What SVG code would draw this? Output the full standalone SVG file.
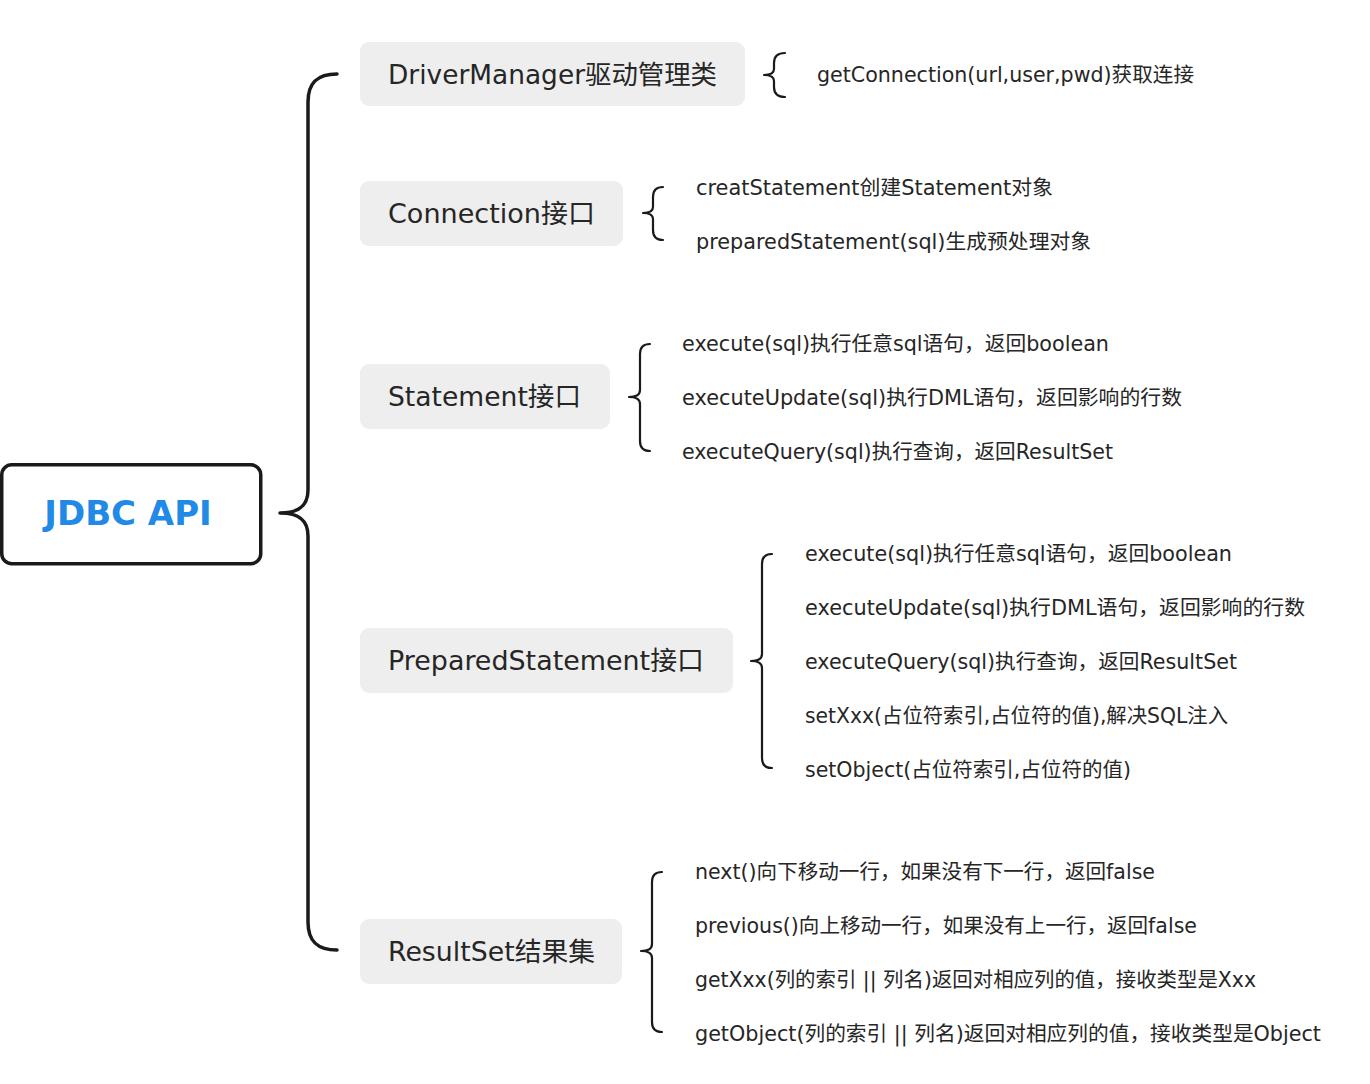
<svg xmlns="http://www.w3.org/2000/svg" width="1370" height="1084" viewBox="0 0 1370 1084">
<style>
.bg{fill:#ffffff}
.root{fill:#ffffff;stroke:#1a1a1a;stroke-width:3.5}
.rootText{font-family:"DejaVu Sans","Noto Sans CJK SC",sans-serif;font-size:34px;font-weight:bold;fill:#2189e6}
.box{fill:#eeeeee}
.boxText{font-family:"DejaVu Sans","Noto Sans CJK SC",sans-serif;font-size:26.5px;fill:#262626}
.leaf{font-family:"DejaVu Sans","Noto Sans CJK SC",sans-serif;font-size:20.5px;fill:#262626}
.brace{fill:none;stroke:#1a1a1a;stroke-width:2.2;stroke-linecap:round;stroke-linejoin:round}
.bigBrace{fill:none;stroke:#1a1a1a;stroke-width:3.5;stroke-linecap:round;stroke-linejoin:round}
text{dominant-baseline:central}
</style>
<rect class="bg" x="0" y="0" width="1370" height="1084"/>

<g id="connectors">
  <path class="bigBrace" d="M337,74 C318,74 308,82 308,102 L308,490 C308,505 300,513 280,513 C300,513 308,521 308,536 L308,922 C308,942 318,950 337,950"/>
  <path class="brace" d="M785,53 Q774,53 774,63 L774,69 Q774,75 764,75 Q774,75 774,81 L774,87 Q774,97 785,97"/>
  <path class="brace" d="M663,187 Q653,187 653,197 L653,207 Q653,213 643,213 Q653,213 653,219 L653,230 Q653,240 663,240"/>
  <path class="brace" d="M650,344 Q640,344 640,354 L640,390 Q640,397 629,397 Q640,397 640,404 L640,441 Q640,451 650,451"/>
  <path class="brace" d="M772,554 Q762,554 762,564 L762,654 Q762,661 751,661 Q762,661 762,668 L762,758 Q762,768 772,768"/>
  <path class="brace" d="M662,872 Q652,872 652,882 L652,944 Q652,951 641,951 Q652,951 652,958 L652,1022 Q652,1032 662,1032"/>
</g>

<g id="root">
  <rect class="root" x="1.75" y="464.75" width="259" height="99" rx="10"/>
  <text class="rootText" x="128" y="513" text-anchor="middle">JDBC API</text>
</g>

<g id="driverManager">
  <rect class="box" x="360" y="42" width="385" height="64" rx="9"/>
  <text class="boxText" x="388" y="74" textLength="329" lengthAdjust="spacingAndGlyphs">DriverManager驱动管理类</text>
</g>
<g id="driverManager-leaves">
  <text class="leaf" x="817" y="75" textLength="377" lengthAdjust="spacingAndGlyphs">getConnection(url,user,pwd)获取连接</text>
</g>

<g id="connection">
  <rect class="box" x="360" y="181" width="263" height="65" rx="9"/>
  <text class="boxText" x="388" y="213" textLength="207" lengthAdjust="spacingAndGlyphs">Connection接口</text>
</g>
<g id="connection-leaves">
  <text class="leaf" x="696" y="188" textLength="357" lengthAdjust="spacingAndGlyphs">creatStatement创建Statement对象</text>
  <text class="leaf" x="696" y="242" textLength="395" lengthAdjust="spacingAndGlyphs">preparedStatement(sql)生成预处理对象</text>
</g>

<g id="statement">
  <rect class="box" x="360" y="364" width="250" height="65" rx="9"/>
  <text class="boxText" x="388" y="396" textLength="193" lengthAdjust="spacingAndGlyphs">Statement接口</text>
</g>
<g id="statement-leaves">
  <text class="leaf" x="682" y="344" textLength="427" lengthAdjust="spacingAndGlyphs">execute(sql)执行任意sql语句，返回boolean</text>
  <text class="leaf" x="682" y="398" textLength="500" lengthAdjust="spacingAndGlyphs">executeUpdate(sql)执行DML语句，返回影响的行数</text>
  <text class="leaf" x="682" y="452" textLength="431" lengthAdjust="spacingAndGlyphs">executeQuery(sql)执行查询，返回ResultSet</text>
</g>

<g id="preparedStatement">
  <rect class="box" x="360" y="628" width="373" height="65" rx="9"/>
  <text class="boxText" x="388" y="660" textLength="316" lengthAdjust="spacingAndGlyphs">PreparedStatement接口</text>
</g>
<g id="preparedStatement-leaves">
  <text class="leaf" x="805" y="554" textLength="427" lengthAdjust="spacingAndGlyphs">execute(sql)执行任意sql语句，返回boolean</text>
  <text class="leaf" x="805" y="608" textLength="500" lengthAdjust="spacingAndGlyphs">executeUpdate(sql)执行DML语句，返回影响的行数</text>
  <text class="leaf" x="805" y="662" textLength="432" lengthAdjust="spacingAndGlyphs">executeQuery(sql)执行查询，返回ResultSet</text>
  <text class="leaf" x="805" y="716" textLength="423" lengthAdjust="spacingAndGlyphs">setXxx(占位符索引,占位符的值),解决SQL注入</text>
  <text class="leaf" x="805" y="770" textLength="326" lengthAdjust="spacingAndGlyphs">setObject(占位符索引,占位符的值)</text>
</g>

<g id="resultSet">
  <rect class="box" x="360" y="919" width="262" height="65" rx="9"/>
  <text class="boxText" x="388" y="951" textLength="207" lengthAdjust="spacingAndGlyphs">ResultSet结果集</text>
</g>
<g id="resultSet-leaves">
  <text class="leaf" x="695" y="872" textLength="460" lengthAdjust="spacingAndGlyphs">next()向下移动一行，如果没有下一行，返回false</text>
  <text class="leaf" x="695" y="926" textLength="502" lengthAdjust="spacingAndGlyphs">previous()向上移动一行，如果没有上一行，返回false</text>
  <text class="leaf" x="695" y="980" textLength="561" lengthAdjust="spacingAndGlyphs">getXxx(列的索引 || 列名)返回对相应列的值，接收类型是Xxx</text>
  <text class="leaf" x="695" y="1034" textLength="626" lengthAdjust="spacingAndGlyphs">getObject(列的索引 || 列名)返回对相应列的值，接收类型是Object</text>
</g>
</svg>
